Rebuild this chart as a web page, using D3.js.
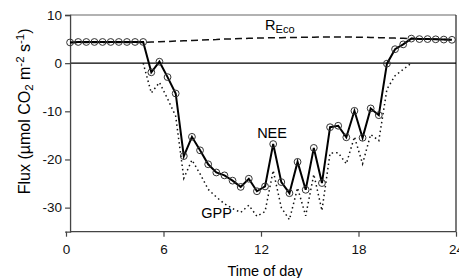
<!DOCTYPE html>
<html>
<head>
<meta charset="utf-8">
<script src="https://cdn.jsdelivr.net/npm/d3@7"></script>
<style>
  html, body { margin: 0; padding: 0; background: #fff; }
  svg { display: block; font-family: "Liberation Sans", Arial, sans-serif; }
</style>
</head>
<body>
<div id="chart"></div>
<script>
const width = 459;
const height = 278;

// half-hour time stamps (h)
const times = [
  0.25, 0.75, 1.25, 1.75, 2.25, 2.75, 3.25, 3.75, 4.25, 4.75, 5.25, 5.75,
  6.25, 6.75, 7.25, 7.75, 8.25, 8.75, 9.25, 9.75, 10.25, 10.75, 11.25, 11.75,
  12.25, 12.75, 13.25, 13.75, 14.25, 14.75, 15.25, 15.75, 16.25, 16.75, 17.25, 17.75,
  18.25, 18.75, 19.25, 19.75, 20.25, 20.75, 21.25, 21.75, 22.25, 22.75, 23.25, 23.75
];

const nee = [
  4.3, 4.4, 4.4, 4.4, 4.4, 4.4, 4.4, 4.4, 4.4, 4.4,
  -1.9, 0.3, -2.9, -6.3, -19.3, -15.3, -18.1, -21.0, -22.7, -23.3,
  -24.4, -25.7, -24.0, -26.6, -25.6, -16.8, -24.7, -27.0, -20.5, -26.3,
  -17.6, -24.9, -13.3, -13.0, -15.4, -9.9, -15.5, -9.4, -10.8, -0.1,
  2.9, 3.9, 5.1, 5.0, 5.0, 4.95, 4.9, 4.85
];

const reco = [
  4.3, 4.3, 4.3, 4.3, 4.3, 4.3, 4.3, 4.3, 4.3, 4.3,
  4.4, 4.45, 4.5, 4.6, 4.65, 4.7, 4.8, 4.85, 4.9, 5.0,
  5.05, 5.1, 5.15, 5.2, 5.25, 5.3, 5.3, 5.35, 5.35, 5.4,
  5.4, 5.45, 5.45, 5.45, 5.45, 5.4, 5.4, 5.35, 5.3, 5.25,
  5.2, 5.15, 5.1, 5.05, 5.0, 4.95, 4.9, 4.85
];

// GPP only during daytime (4.75 h .. 21.25 h)
const gppTimes = times.slice(9, 43);
const gpp = [
  0, -6.2, -4.0, -7.4, -11.0, -23.9, -20.1, -23.0, -26.2, -27.8,
  -29.2, -30.2, -31.0, -29.5, -31.8, -30.8, -22.3, -30.0, -32.5, -25.9,
  -31.7, -23.1, -30.6, -18.7, -18.6, -20.9, -15.3, -20.9, -14.8, -16.1,
  -5.4, -2.6, -1.3, 0
];

const xTicks = [0, 6, 12, 18, 24];
const yTicks = [10, 0, -10, -20, -30];

const svg = d3.select("#chart")
  .append("svg")
  .attr("width", width)
  .attr("height", height);

const x = d3.scaleLinear().domain([0, 24]).range([66, 456]);
const y = d3.scaleLinear().domain([-35, 10]).range([231.7, 15]);

const x0 = x(times[0]);   // left axis sits on first sample
const axisColor = "#444";

// FRAME (top + right)
svg.append("line")
  .attr("x1", x0).attr("x2", x(24))
  .attr("y1", y(10)).attr("y2", y(10))
  .attr("stroke", "#666").attr("stroke-width", 1.2);
svg.append("line")
  .attr("x1", x(24)).attr("x2", x(24))
  .attr("y1", y(10)).attr("y2", y(-35))
  .attr("stroke", "#222").attr("stroke-width", 1.2);

// ZERO LINE
svg.append("line")
  .attr("x1", x0).attr("x2", x(24))
  .attr("y1", y(0)).attr("y2", y(0))
  .attr("stroke", "#000").attr("stroke-width", 1.2);

// AXES
const xAxis = svg.append("g")
  .attr("transform", `translate(0,${y(-35)})`)
  .call(d3.axisBottom(x).tickValues(xTicks).tickSize(5).tickPadding(8)
    .tickFormat(d => String(d)));
xAxis.select(".domain").attr("d", `M${x0},0H${x(24)}`);

const yAxis = svg.append("g")
  .attr("transform", `translate(${x0},0)`)
  .call(d3.axisLeft(y).tickValues(yTicks).tickSize(5).tickPadding(3)
    .tickFormat(d => String(d)));

[xAxis, yAxis].forEach(g => {
  g.select(".domain").attr("stroke", axisColor).attr("stroke-width", 1.3);
  g.selectAll(".tick line").attr("stroke", axisColor).attr("stroke-width", 1.2);
  g.selectAll(".tick text")
    .attr("fill", "#111")
    .attr("font-size", "13.5px")
    .attr("font-family", "Liberation Sans, Arial, sans-serif");
});

// LINES
const recoLine = d3.line().x((d, i) => x(times[i])).y(d => y(d));
svg.append("path")
  .datum(reco)
  .attr("d", recoLine)
  .attr("fill", "none")
  .attr("stroke", "#111")
  .attr("stroke-width", 1.5)
  .attr("stroke-dasharray", "7,4");

const gppLine = d3.line().x((d, i) => x(gppTimes[i])).y(d => y(d));
svg.append("path")
  .datum(gpp)
  .attr("d", gppLine)
  .attr("fill", "none")
  .attr("stroke", "#111")
  .attr("stroke-width", 1.5)
  .attr("stroke-dasharray", "1.5,3");

const neeLine = d3.line().x((d, i) => x(times[i])).y(d => y(d));
svg.append("path")
  .datum(nee)
  .attr("d", neeLine)
  .attr("fill", "none")
  .attr("stroke", "#000")
  .attr("stroke-width", 2);

svg.append("g")
  .selectAll("circle")
  .data(nee)
  .enter()
  .append("circle")
  .attr("cx", (d, i) => x(times[i]))
  .attr("cy", d => y(d))
  .attr("r", 3.4)
  .attr("fill", "none")
  .attr("stroke", "#333")
  .attr("stroke-width", 1);

// SERIES LABELS
svg.append("text")
  .attr("x", x(12.68)).attr("y", y(-15.55))
  .attr("text-anchor", "middle")
  .attr("font-size", "14.5px")
  .text("NEE");

svg.append("text")
  .attr("x", x(9.27)).attr("y", y(-32.2))
  .attr("text-anchor", "middle")
  .attr("font-size", "14.5px")
  .text("GPP");

const recoLabel = svg.append("text")
  .attr("x", x(12.25)).attr("y", y(6.9))
  .attr("font-size", "14.5px");
recoLabel.append("tspan").text("R");
recoLabel.append("tspan").attr("font-size", "11px").attr("dy", 3).text("Eco");

// AXIS TITLES
svg.append("text")
  .attr("x", (x(0) + x(24)) / 2 + 4)
  .attr("y", 275.5)
  .attr("text-anchor", "middle")
  .attr("font-size", "14.5px")
  .text("Time of day");

const yTitle = svg.append("text")
  .attr("transform", `translate(30,${(y(10) + y(-35)) / 2 - 12}) rotate(-90)`)
  .attr("text-anchor", "middle")
  .attr("font-size", "16px");
yTitle.append("tspan").text("Flux (µmol CO");
yTitle.append("tspan").attr("font-size", "11.5px").attr("dy", 3).text("2");
yTitle.append("tspan").attr("dy", -3).text(" m");
yTitle.append("tspan").attr("font-size", "11.5px").attr("dy", -6).text("-2");
yTitle.append("tspan").attr("dy", 6).text(" s");
yTitle.append("tspan").attr("font-size", "11.5px").attr("dy", -6).text("-1");
yTitle.append("tspan").attr("dy", 6).text(")");
</script>
</body>
</html>
